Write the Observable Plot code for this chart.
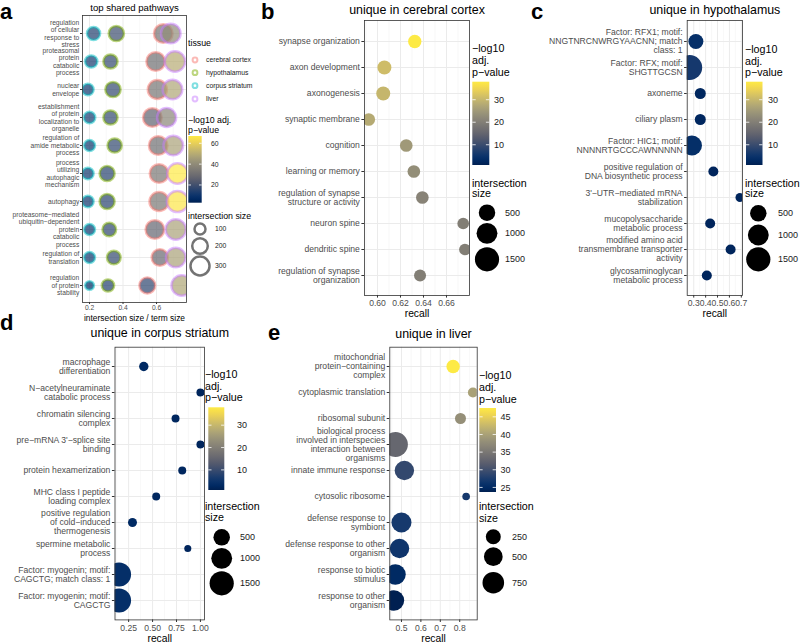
<!DOCTYPE html>
<html><head><meta charset="utf-8">
<script src="https://cdn.jsdelivr.net/npm/d3@7"></script>
<script src="https://cdn.jsdelivr.net/npm/@observablehq/plot@0.6"></script>
<style>
html,body{margin:0;padding:0;background:#fff;}
#root{position:relative;width:800px;height:643px;overflow:hidden;font-family:"Liberation Sans",Arial,sans-serif;background:#fff;}
.panel{position:absolute;}
.letter{position:absolute;font-weight:bold;font-size:22px;line-height:1;color:#000;}
g[aria-label="x-axis tick label"], g[aria-label="y-axis tick label"]{fill:#4d4d4d;}
g[aria-label="x-axis tick"], g[aria-label="y-axis tick"]{stroke:#333333;}
</style></head><body><div id="root"></div>
<script>
// ---------------- DATA ----------------
const FONT = "Liberation Sans, Arial, sans-serif";
const tissues = ["cerebral cortex", "hypothalamus", "corpus striatum", "liver"];
const tissueColors = ["#F8766D", "#7CAE00", "#00BFC4", "#C77CFF"];

// panel a: top shared pathways
const pathwaysA = [
  "regulation\nof cellular\nresponse to\nstress",
  "proteasomal\nprotein\ncatabolic\nprocess",
  "nuclear\nenvelope",
  "establishment\nof protein\nlocalization to\norganelle",
  "regulation of\namide metabolic\nprocess",
  "process\nutilizing\nautophagic\nmechanism",
  "autophagy",
  "proteasome−mediated\nubiquitin−dependent\nprotein\ncatabolic\nprocess",
  "regulation of\ntranslation",
  "regulation\nof protein\nstability"
];
const ratioCortex   = [0.640, 0.595, 0.605, 0.575, 0.610, 0.615, 0.615, 0.590, 0.620, 0.545];
const ratioHypo     = [0.360, 0.325, 0.340, 0.325, 0.350, 0.305, 0.305, 0.318, 0.345, 0.310];
const ratioStriatum = [0.224, 0.210, 0.190, 0.200, 0.200, 0.190, 0.190, 0.200, 0.200, 0.200];
const ratioLiver    = [0.685, 0.710, 0.695, 0.660, 0.700, 0.725, 0.725, 0.715, 0.715, 0.750];
const sizeCortex    = [283, 283, 300, 283, 283, 283, 300, 283, 220, 206];
const sizeHypo      = [192, 166, 192, 166, 166, 185, 185, 153, 153, 124];
const sizeStriatum  = [141, 124, 108, 108, 98, 108, 108, 98, 98, 63];
const sizeLiver     = [317, 344, 317, 300, 317, 344, 372, 344, 317, 344];
const pCortex       = [32, 30, 32, 26, 30, 33, 33, 27, 28, 16];
const pHypo         = [19, 17, 17, 17, 17, 15, 15, 16, 17, 14];
const pStriatum     = [14, 12, 10, 12, 10, 10, 10, 10, 10, 6];
const pLiver        = [40, 50, 48, 38, 47, 67, 66, 47, 47, 48];
const ticksA = [0.2, 0.4, 0.6];
const minorA = [0.3, 0.5, 0.7];
const sizeBreaksA = [100, 200, 300];
const colorBreaksA = [20, 40, 60];

// panel b: unique in cerebral cortex
const termsB = ["synapse organization", "axon development", "axonogenesis", "synaptic membrane", "cognition",
  "learning or memory", "regulation of synapse\nstructure or activity", "neuron spine", "dendritic spine",
  "regulation of synapse\norganization"];
const recallB = [0.6324, 0.606, 0.605, 0.5924, 0.625, 0.6316, 0.639, 0.6745, 0.676, 0.637];
const sizeB = [244, 290, 290, 201, 201, 201, 201, 145, 145, 163];
const pB = [38, 31, 30, 28, 25, 23, 21, 20, 20, 20];
const ticksB = [0.60, 0.62, 0.64, 0.66];
const minorB = [0.59, 0.61, 0.63, 0.65, 0.67];

// panel c: unique in hypothalamus
const termsC = ["Factor: RFX1; motif:\nNNGTNRCNWRGYAACNN; match\nclass: 1", "Factor: RFX; motif:\nSHGTTGCSN",
  "axoneme", "ciliary plasm", "Factor: HIC1; motif:\nNNNNRTGCCCAWNNNNN",
  "positive regulation of\nDNA biosynthetic process", "3'−UTR−mediated mRNA\nstabilization",
  "mucopolysaccharide\nmetabolic process", "modified amino acid\ntransmembrane transporter\nactivity",
  "glycosaminoglycan\nmetabolic process"];
const recallC = [0.318, 0.266, 0.355, 0.355, 0.285, 0.465, 0.689, 0.438, 0.610, 0.410];
const sizeC = [367, 1637, 113, 113, 889, 73, 41, 73, 73, 73];
const pC = [4, 6, 2.5, 2.5, 4, 2, 2, 2, 2, 2];
const ticksC = [0.3, 0.4, 0.5, 0.6, 0.7];
const minorC = [0.25, 0.35, 0.45, 0.55, 0.65];

// panel d: unique in corpus striatum
const termsD = ["macrophage\ndifferentiation", "N−acetylneuraminate\ncatabolic process", "chromatin silencing\ncomplex",
  "pre−mRNA 3'−splice site\nbinding", "protein hexamerization", "MHC class I peptide\nloading complex",
  "positive regulation\nof cold−induced\nthermogenesis", "spermine metabolic\nprocess",
  "Factor: myogenin; motif:\nCAGCTG; match class: 1", "Factor: myogenin; motif:\nCAGCTG"];
const recallD = [0.408, 1.0, 0.74, 1.0, 0.81, 0.538, 0.29, 0.868, 0.15, 0.15];
const sizeD = [52, 18, 18, 18, 18, 18, 41, 5, 1469, 1469];
const pD = [3, 2, 2.5, 2, 2.5, 2.5, 3, 2, 4, 4];
const ticksD = [0.25, 0.50, 0.75, 1.00];
const minorD = [0.125, 0.375, 0.625, 0.875];
const sizeBreaksBCD = [500, 1000, 1500];
const colorBreaksBCD = [10, 20, 30];

// panel e: unique in liver
const termsE = ["mitochondrial\nprotein−containing\ncomplex", "cytoplasmic translation", "ribosomal subunit",
  "biological process\ninvolved in interspecies\ninteraction between\norganisms", "innate immune response",
  "cytosolic ribosome", "defense response to\nsymbiont", "defense response to other\norganism",
  "response to biotic\nstimulus", "response to other\norganism"];
const recallE = [0.766, 0.868, 0.804, 0.469, 0.515, 0.833, 0.50, 0.49, 0.469, 0.461];
const sizeE = [170, 50, 77, 1100, 556, 8, 607, 556, 660, 660];
const pE = [47.5, 40, 38, 33, 29, 27, 27, 26.5, 25, 23.7];
const ticksE = [0.5, 0.6, 0.7, 0.8];
const minorE = [0.45, 0.55, 0.65, 0.75, 0.85];
const sizeBreaksE = [250, 500, 750];
const colorBreaksE = [25, 30, 35, 40, 45];

// ---------------- SCALES ----------------
const colorOptsA = {type: "linear", scheme: "cividis", domain: [3, 67]};
const colorOptsBCD = {type: "linear", scheme: "cividis", domain: [1, 38]};
const colorOptsE = {type: "linear", scheme: "cividis", domain: [23.7, 47.5]};
const rOptsA = {type: "sqrt", domain: [0, 400], range: [0, 11]};
const rOptsBCD = {type: "sqrt", domain: [0, 2000], range: [3, 13.5]};
const rOptsE = {type: "sqrt", domain: [0, 1000], range: [3, 12]};

const root = document.getElementById("root");

function place(el, L, T) {
  const div = document.createElement("div");
  div.className = "panel";
  div.style.left = L + "px";
  div.style.top = T + "px";
  div.appendChild(el);
  root.appendChild(div);
}

function panel(cfg) {
  const [fx0, fx1, fy0, fy1] = cfg.frame;
  const p = Plot.plot({
    width: cfg.W, height: cfg.H,
    marginLeft: fx0 - cfg.L, marginRight: cfg.L + cfg.W - fx1,
    marginTop: fy0 - cfg.T, marginBottom: cfg.T + cfg.H - fy1,
    style: {fontFamily: FONT, overflow: "visible", background: "transparent"},
    x: {domain: cfg.xDomain, label: null},
    y: {type: "point", domain: cfg.terms, padding: 0.6, label: null},
    r: cfg.rOpts,
    color: cfg.colorOpts,
    marks: [
      Plot.ruleX(cfg.minor, {stroke: "#F3F3F3", strokeWidth: 0.6}),
      Plot.gridX({ticks: cfg.ticks, stroke: "#EBEBEB", strokeOpacity: 1, strokeWidth: 1}),
      Plot.gridY({stroke: "#EBEBEB", strokeOpacity: 1, strokeWidth: 1}),
      ...cfg.dots,
      Plot.frame({stroke: "#333333", strokeWidth: 0.8}),
      Plot.axisX({ticks: cfg.ticks, tickFormat: cfg.tickFormat, tickSize: cfg.tickSize, tickPadding: cfg.tickPadding,
        fontSize: cfg.fs, label: null}),
      Plot.axisY({tickSize: cfg.tickSize, tickPadding: cfg.tickPadding, fontSize: cfg.fs,
        lineHeight: cfg.lineHeight, textAnchor: "end", label: null}),
      Plot.text([cfg.title], {text: d => d, frameAnchor: "top", lineAnchor: "middle", dy: cfg.titleDy,
        fontSize: cfg.titleFs, fill: "#000"}),
      Plot.text([cfg.xLabel], {text: d => d, frameAnchor: "bottom", lineAnchor: "middle", dy: cfg.labelDy,
        fontSize: cfg.labelFs, fill: "#000"})
    ]
  });
  place(p, cfg.L, cfg.T);
}

// ---- panel a
const dataA = [];
const ratiosA = [ratioCortex, ratioHypo, ratioStriatum, ratioLiver];
const sizesA = [sizeCortex, sizeHypo, sizeStriatum, sizeLiver];
const psA = [pCortex, pHypo, pStriatum, pLiver];
tissues.forEach((t, ti) => pathwaysA.forEach((pw, i) =>
  dataA.push({tissue: t, pathway: pw, ratio: ratiosA[ti][i], size: sizesA[ti][i], p: psA[ti][i]})));

panel({
  L: 0, T: 0, W: 190, H: 325, frame: [82, 186, 15, 302],
  terms: pathwaysA, xDomain: [0.158, 0.779], ticks: ticksA, minor: minorA, tickFormat: d3.format(".1f"),
  rOpts: rOptsA, colorOpts: colorOptsA,
  dots: tissues.map((t, ti) => Plot.dot(dataA.filter(d => d.tissue === t), {
    x: "ratio", y: "pathway", r: "size", fill: "p", fillOpacity: 0.7,
    stroke: tissueColors[ti], strokeOpacity: 0.5, strokeWidth: 2.5, clip: true, sort: null})),
  fs: 6.7, lineHeight: 1.13, tickSize: 2, tickPadding: 1.2,
  title: "top shared pathways", titleFs: 9.6, titleDy: -8,
  xLabel: "intersection size / term size", labelFs: 8.4, labelDy: 15.5
});

function simpleData(terms, recall, size, p) {
  return terms.map((t, i) => ({term: t, recall: recall[i], size: size[i], p: p[i]}));
}
function simpleDots(data) {
  return [Plot.dot(data, {x: "recall", y: "term", r: "size", fill: "p", clip: true})];
}
const common = {fs: 8.6, lineHeight: 1.05, tickSize: 2.6, tickPadding: 2, titleFs: 12.4, labelFs: 10.3, xLabel: "recall"};

panel({...common,
  L: 262, T: 0, W: 210, H: 320, frame: [364, 469, 20, 295],
  terms: termsB, xDomain: [0.5887, 0.680], ticks: ticksB, minor: minorB, tickFormat: d3.format(".2f"),
  rOpts: rOptsBCD, colorOpts: colorOptsBCD, dots: simpleDots(simpleData(termsB, recallB, sizeB, pB)),
  title: "unique in cerebral cortex", titleDy: -10, labelDy: 18.3
});
panel({...common,
  L: 532, T: 0, W: 213, H: 320, frame: [686.7, 742, 20, 295],
  terms: termsC, xDomain: [0.245, 0.71], ticks: ticksC, minor: minorC, tickFormat: d3.format(".1f"),
  rOpts: rOptsBCD, colorOpts: colorOptsBCD, dots: simpleDots(simpleData(termsC, recallC, sizeC, pC)),
  title: "unique in hypothalamus", titleDy: -10, labelDy: 18.3
});
panel({...common,
  L: 0, T: 322, W: 205, H: 321, frame: [114.5, 204, 346.7, 619.4],
  terms: termsD, xDomain: [0.1075, 1.0425], ticks: ticksD, minor: minorD, tickFormat: d3.format(".2f"),
  rOpts: rOptsBCD, colorOpts: colorOptsBCD, dots: simpleDots(simpleData(termsD, recallD, sizeD, pD)),
  title: "unique in corpus striatum", titleDy: -13.7, labelDy: 18.8
});
panel({...common,
  L: 275, T: 322, W: 205, H: 321, frame: [389.3, 476.7, 346.7, 619.4],
  terms: termsE, xDomain: [0.44, 0.89], ticks: ticksE, minor: minorE, tickFormat: d3.format(".1f"),
  rOpts: rOptsE, colorOpts: colorOptsE, dots: simpleDots(simpleData(termsE, recallE, sizeE, pE)),
  title: "unique in liver", titleDy: -13.2, labelDy: 18.6
});

// ---------------- LEGENDS ----------------
const svg = d3.create("svg").attr("width", 800).attr("height", 643)
  .style("position", "absolute").style("left", "0px").style("top", "0px")
  .style("font-family", FONT).style("pointer-events", "none");
const defs = svg.append("defs");
let gid = 0;

function text(x, y, s, fs, fill = "#000") {
  svg.append("text").attr("x", x).attr("y", y).attr("dy", "0.35em").attr("font-size", fs)
    .attr("fill", fill).text(s);
}
function colorbar({x, y, w, h, opts, breaks, labelX, fs}) {
  const sc = Plot.scale({color: opts});
  const [d0, d1] = opts.domain;
  const id = "grad" + (gid++);
  const lg = defs.append("linearGradient").attr("id", id).attr("x1", 0).attr("y1", 1).attr("x2", 0).attr("y2", 0);
  for (let k = 0; k <= 20; k++) {
    const t = k / 20;
    lg.append("stop").attr("offset", t).attr("stop-color", sc.apply(d0 + t * (d1 - d0)));
  }
  svg.append("rect").attr("x", x).attr("y", y).attr("width", w).attr("height", h).attr("fill", `url(#${id})`);
  breaks.forEach(b => {
    const yy = y + h - (b - d0) / (d1 - d0) * h;
    svg.append("line").attr("x1", x).attr("x2", x + w / 5).attr("y1", yy).attr("y2", yy).attr("stroke", "#fff").attr("stroke-width", 0.8);
    svg.append("line").attr("x1", x + w - w / 5).attr("x2", x + w).attr("y1", yy).attr("y2", yy).attr("stroke", "#fff").attr("stroke-width", 0.8);
    text(labelX, yy, String(b), fs, "#1a1a1a");
  });
}
function sizeLegend({cx, cys, breaks, opts, labelX, fs, ring}) {
  const sc = Plot.scale({r: opts});
  breaks.forEach((b, i) => {
    const c = svg.append("circle").attr("cx", cx).attr("cy", cys[i]).attr("r", sc.apply(b));
    if (ring) c.attr("fill", "none").attr("stroke", "#000").attr("stroke-opacity", 0.55).attr("stroke-width", 2.5);
    else c.attr("fill", "#000");
    text(labelX, cys[i], String(b), fs, "#1a1a1a");
  });
}

// legend a
text(188, 43, "tissue", 8.8);
tissues.forEach((t, i) => {
  const cy = [60, 72.7, 85.7, 99][i];
  svg.append("circle").attr("cx", 195).attr("cy", cy).attr("r", 2.4).attr("fill", "none")
    .attr("stroke", tissueColors[i]).attr("stroke-opacity", 0.5).attr("stroke-width", 2);
  text(206, cy, t, 6.8, "#1a1a1a");
});
text(188, 120, "−log10 adj.", 8.8);
text(188, 129.5, "p−value", 8.8);
colorbar({x: 188.3, y: 136, w: 13.4, h: 66.7, opts: colorOptsA, breaks: colorBreaksA, labelX: 211, fs: 6.8});
text(188, 216, "intersection size", 8.8);
sizeLegend({cx: 200, cys: [229, 246, 266], breaks: sizeBreaksA, opts: rOptsA, labelX: 215, fs: 6.8, ring: true});

// legends b, c, d, e
function legendBlock({tx, ty, cb, sz}) {
  text(tx, ty[0], "−log10", 10.7);
  text(tx, ty[1], "adj.", 10.7);
  text(tx, ty[2], "p−value", 10.7);
  colorbar(cb);
  text(tx, ty[3], "intersection", 10.7);
  text(tx, ty[4], "size", 10.7);
  sizeLegend(sz);
}
legendBlock({tx: 472, ty: [48, 60, 72, 183, 193.5],
  cb: {x: 472.3, y: 81.7, w: 17, h: 83.3, opts: colorOptsBCD, breaks: colorBreaksBCD, labelX: 494, fs: 9},
  sz: {cx: 487, cys: [212.7, 233.3, 259.3], breaks: sizeBreaksBCD, opts: rOptsBCD, labelX: 505, fs: 9}});
legendBlock({tx: 745, ty: [49, 61, 72, 183.3, 193.5],
  cb: {x: 746, y: 81.7, w: 16.5, h: 83.3, opts: colorOptsBCD, breaks: colorBreaksBCD, labelX: 768, fs: 9},
  sz: {cx: 758.3, cys: [213.3, 235, 259.3], breaks: sizeBreaksBCD, opts: rOptsBCD, labelX: 778, fs: 9}});
legendBlock({tx: 205, ty: [374, 386, 397.7, 506, 517],
  cb: {x: 208.3, y: 407.3, w: 16, h: 82.7, opts: colorOptsBCD, breaks: colorBreaksBCD, labelX: 237, fs: 9},
  sz: {cx: 221.7, cys: [537.3, 558.3, 583.3], breaks: sizeBreaksBCD, opts: rOptsBCD, labelX: 240, fs: 9}});
legendBlock({tx: 479, ty: [375, 387, 399, 506.7, 518],
  cb: {x: 479.3, y: 408, w: 16.7, h: 84, opts: colorOptsE, breaks: colorBreaksE, labelX: 500.5, fs: 9},
  sz: {cx: 493.3, cys: [536.7, 556.7, 582.7], breaks: sizeBreaksE, opts: rOptsE, labelX: 512, fs: 9}});

root.appendChild(svg.node());

// panel letters
[["a", 0, 1], ["b", 261, 1], ["c", 531, 1], ["d", 0, 312], ["e", 268, 322]].forEach(([s, x, y]) => {
  const d = document.createElement("div");
  d.className = "letter";
  d.style.left = x + "px";
  d.style.top = y + "px";
  d.textContent = s;
  root.appendChild(d);
});
</script></body></html>
